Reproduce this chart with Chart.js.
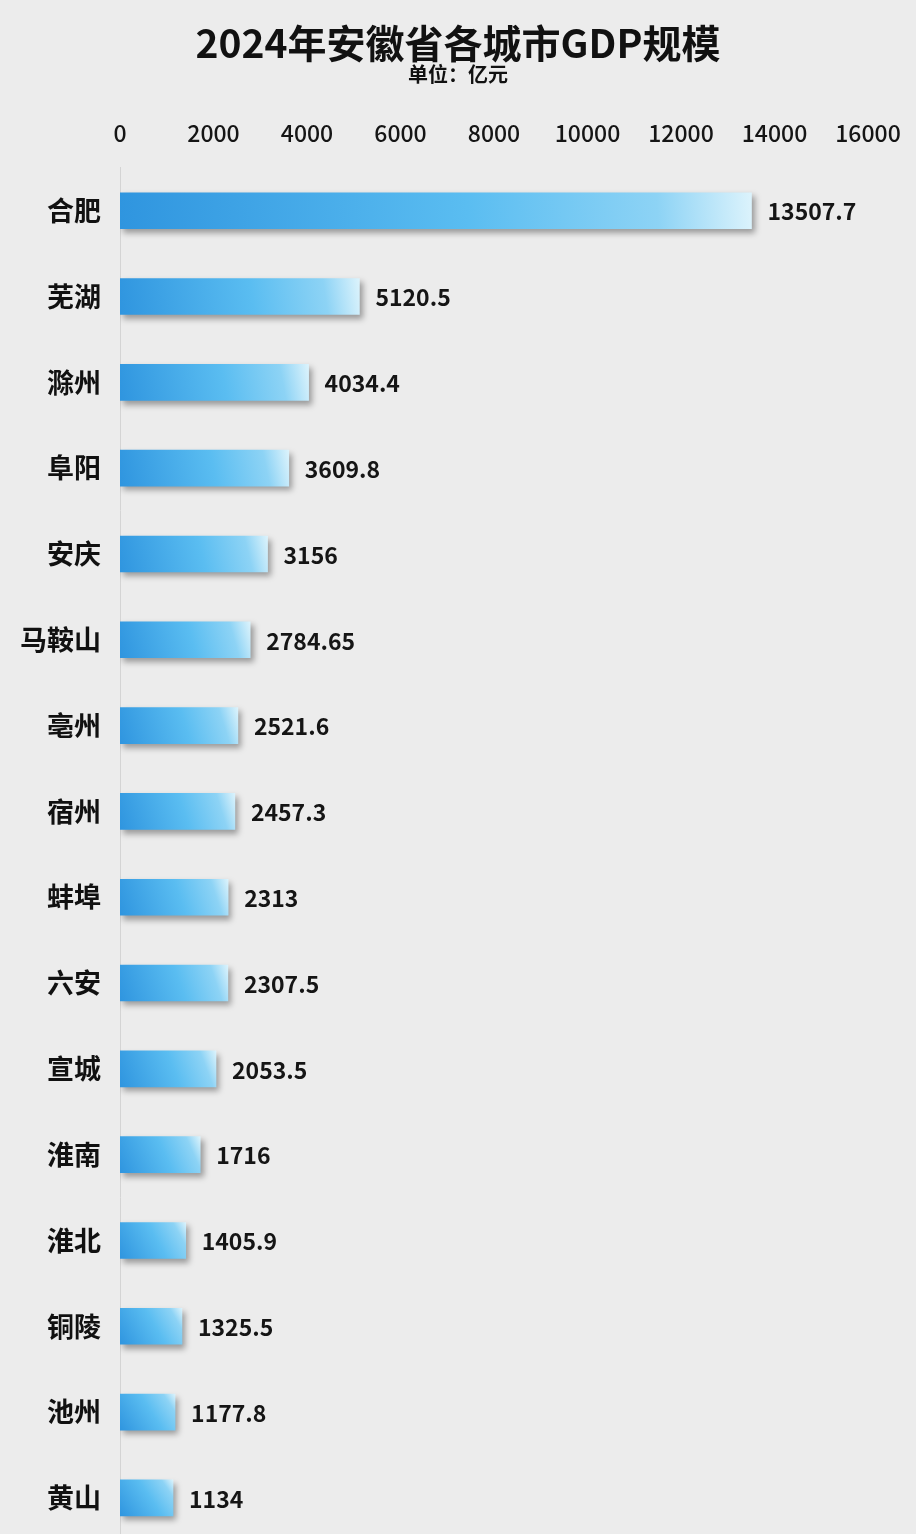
<!DOCTYPE html>
<html>
<head>
<meta charset="utf-8">
<script src="https://cdn.jsdelivr.net/npm/chart.js@4.4.1/dist/chart.umd.min.js"></script>
<style>
  html, body { margin: 0; padding: 0; background: #ececec; overflow: hidden; }
  canvas { display: block; }
</style>
</head>
<body>
<canvas id="gdp" width="916" height="1568"></canvas>
<script>
// data
const cities = ['合肥', '芜湖', '滁州', '阜阳', '安庆', '马鞍山', '亳州', '宿州',
                '蚌埠', '六安', '宣城', '淮南', '淮北', '铜陵', '池州', '黄山'];
const gdp = [13507.7, 5120.5, 4034.4, 3609.8, 3156, 2784.65, 2521.6, 2457.3,
             2313, 2307.5, 2053.5, 1716, 1405.9, 1325.5, 1177.8, 1134];
const xTicks = [0, 2000, 4000, 6000, 8000, 10000, 12000, 14000, 16000];

const FONT = '"Noto Sans CJK SC", "Noto Sans", sans-serif';

// gradient per bar, dark blue bottom-left -> pale top-right
function barFill(context) {
  const chart = context.chart;
  const xs = chart.scales.x, ys = chart.scales.y;
  if (!xs || !ys || context.dataIndex === undefined) return '#4fb2ec';
  const x0 = xs.getPixelForValue(0);
  const x1 = xs.getPixelForValue(gdp[context.dataIndex]);
  const yc = ys.getPixelForValue(context.dataIndex);
  if (![x0, x1, yc].every(Number.isFinite)) return '#4fb2ec';
  const g = chart.ctx.createLinearGradient(x0, yc + 18, x1, yc - 18);
  g.addColorStop(0, '#2f95df');
  g.addColorStop(0.55, '#5abdf1');
  g.addColorStop(0.85, '#8dd3f5');
  g.addColorStop(1, '#dcf3fc');
  return g;
}

// soft drop shadow under bars
const barShadow = {
  id: 'barShadow',
  beforeDatasetDraw(chart) {
    const c = chart.ctx;
    c.save();
    c.shadowColor = 'rgba(0,0,0,0.35)';
    c.shadowBlur = 6;
    c.shadowOffsetX = 3;
    c.shadowOffsetY = 4;
  },
  afterDatasetDraw(chart) {
    chart.ctx.restore();
  }
};

// value labels at bar ends
const valueLabels = {
  id: 'valueLabels',
  afterDatasetsDraw(chart) {
    const c = chart.ctx;
    const meta = chart.getDatasetMeta(0);
    c.save();
    c.font = 'bold 23px ' + FONT;
    c.fillStyle = '#151515';
    c.textAlign = 'left';
    c.textBaseline = 'middle';
    meta.data.forEach(function (bar, i) {
      c.fillText(String(gdp[i]), bar.x + 16, bar.y + 1);
    });
    c.restore();
  }
};

new Chart(document.getElementById('gdp'), {
  type: 'bar',
  data: {
    labels: cities,
    datasets: [{
      data: gdp,
      backgroundColor: barFill,
      borderWidth: 0,
      barThickness: 36
    }]
  },
  plugins: [barShadow, valueLabels],
  options: {
    indexAxis: 'y',
    responsive: false,
    animation: false,
    layout: { padding: { left: 0, right: 0, top: 0, bottom: 4 } },
    plugins: {
      legend: { display: false },
      tooltip: { enabled: false },
      title: {
        display: true,
        text: '2024年安徽省各城市GDP规模',
        color: '#111',
        font: { family: FONT, size: 39, weight: 'bold' },
        padding: { top: 20, bottom: -4 }
      },
      subtitle: {
        display: true,
        text: '单位：亿元',
        color: '#111',
        font: { family: FONT, size: 20, weight: 'bold' },
        padding: { top: 0, bottom: 0 }
      }
    },
    scales: {
      x: {
        position: 'top',
        min: 0,
        max: 16000,
        afterBuildTicks(scale) {
          scale.ticks = xTicks.map(v => ({ value: v }));
        },
        afterFit(scale) { scale.height = 81; },
        grid: { display: false },
        border: { display: false },
        ticks: {
          padding: 13,
          color: '#151515',
          maxRotation: 0,
          font: { family: FONT, size: 23, weight: '500' },
          callback: v => String(v)
        }
      },
      y: {
        afterFit(scale) { scale.width = 120; },
        grid: { display: false },
        border: { display: true, color: '#d4d4d4', width: 1 },
        ticks: {
          padding: 11,
          color: '#111',
          font: { family: FONT, size: 27, weight: 'bold' }
        }
      },
      // empty right-hand axis, only reserves the margin after 16000
      yRight: {
        position: 'right',
        afterFit(scale) { scale.width = 48; },
        grid: { display: false },
        border: { display: false },
        ticks: { display: false }
      }
    }
  }
});
</script>
</body>
</html>
